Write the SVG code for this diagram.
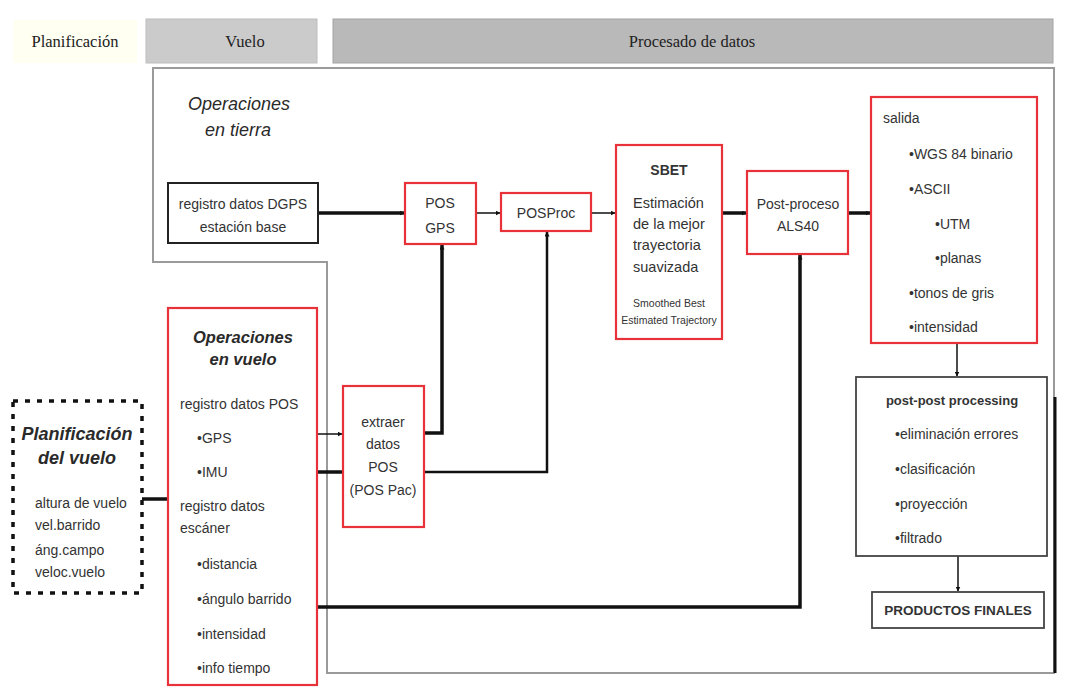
<svg xmlns="http://www.w3.org/2000/svg" width="1087" height="698" viewBox="0 0 1087 698">
  <defs>
    <marker id="arr" viewBox="0 0 10 10" refX="9" refY="5" markerWidth="5" markerHeight="5" markerUnits="userSpaceOnUse" orient="auto">
      <path d="M0,0 L10,5 L0,10 z" fill="#111"/>
    </marker>
    <style>
      .hdr { font-family: "Liberation Serif", serif; font-size: 16.5px; fill: #222; text-anchor: middle; }
      .t { font-family: "Liberation Sans", Arial, sans-serif; font-size: 14px; fill: #333; }
      .c { text-anchor: middle; }
      .ttl { font-family: "Liberation Sans", Arial, sans-serif; font-style: italic; fill: #2a2a2a; }
      .red { fill: #fff; stroke: #e8323a; stroke-width: 2.2; }
      .blk { fill: #fff; stroke: #222; stroke-width: 2; }
      .gry { fill: #fff; stroke: #444; stroke-width: 1.8; }
      .thin { fill: none; stroke: #111; stroke-width: 1.5; }
      .thick { fill: none; stroke: #111; stroke-width: 3.5; }
      .mid { fill: none; stroke: #111; stroke-width: 2.5; }
    </style>
  </defs>
  <rect width="1087" height="698" fill="#fff"/>

  <!-- phase header -->
  <g id="header">
    <rect x="13" y="20" width="124" height="43" fill="#fffff2"/>
    <text class="hdr" x="75" y="47">Planificación</text>
    <rect x="146" y="19" width="171" height="44" fill="#cbcbcb" stroke="#bdbdbd" stroke-width="1"/>
    <text class="hdr" x="245" y="47">Vuelo</text>
    <rect x="333" y="19" width="720" height="44" fill="#b9b9b9" stroke="#a4a4a4" stroke-width="1"/>
    <text class="hdr" x="692" y="47">Procesado de datos</text>
  </g>

  <!-- processing frame outline -->
  <g id="frame">
    <path d="M153,68 H1054 V673 H327 V262 H153 Z" fill="none" stroke="#9a9a9a" stroke-width="2"/>
    <line x1="1055" y1="397" x2="1055" y2="673" stroke="#111" stroke-width="3"/>
  </g>

  <!-- connectors -->
  <g id="connectors">
    <line class="thick" x1="318" y1="213" x2="404" y2="213" marker-end="url(#arr)"/>
    <line class="thin" x1="476" y1="213" x2="500" y2="213" marker-end="url(#arr)"/>
    <line class="thin" x1="591" y1="213" x2="615" y2="213" marker-end="url(#arr)"/>
    <line class="thick" x1="722" y1="213" x2="746" y2="213" marker-end="url(#arr)"/>
    <line class="thick" x1="848" y1="213" x2="870" y2="213" marker-end="url(#arr)"/>
    <line class="thin" x1="957" y1="343" x2="957" y2="376" marker-end="url(#arr)"/>
    <line class="thin" x1="958" y1="556" x2="958" y2="591" marker-end="url(#arr)"/>
    <line class="thick" x1="141" y1="499" x2="167" y2="499"/>
    <line class="thin" x1="318" y1="434" x2="342" y2="434" marker-end="url(#arr)"/>
    <line class="thick" x1="318" y1="472" x2="342" y2="472"/>
    <path class="thick" d="M424,433 H442 V245" marker-end="url(#arr)"/>
    <path class="mid" d="M424,472 H547 V232" marker-end="url(#arr)"/>
    <path class="thick" d="M318,607 H800 V255" marker-end="url(#arr)"/>
  </g>

  <g id="lbl-tierra">
    <text class="ttl" x="188" y="110" style="font-size:18px">Operaciones</text>
    <text class="ttl" x="205" y="136" style="font-size:18px">en tierra</text>
  </g>

  <g id="dgps">
    <rect class="blk" x="168" y="183" width="150" height="60"/>
    <text class="t c" x="243" y="209">registro datos DGPS</text>
    <text class="t c" x="243" y="232">estación base</text>
  </g>

  <g id="posgps">
    <rect class="red" x="405" y="183" width="71" height="61"/>
    <text class="t c" x="440" y="208">POS</text>
    <text class="t c" x="440" y="233">GPS</text>
  </g>

  <g id="posproc">
    <rect class="red" x="501" y="193" width="90" height="38"/>
    <text class="t c" x="546" y="218">POSProc</text>
  </g>

  <g id="sbet">
    <rect class="red" x="616" y="145" width="106" height="194"/>
    <text class="t c" x="669" y="175" style="font-weight:bold">SBET</text>
    <text class="t" x="633" y="208" style="font-size:14.5px">Estimación</text>
    <text class="t" x="633" y="229" style="font-size:14.5px">de la mejor</text>
    <text class="t" x="633" y="250" style="font-size:14.5px">trayectoria</text>
    <text class="t" x="633" y="272" style="font-size:14.5px">suavizada</text>
    <text class="t c" x="669" y="307" style="font-size:10.5px">Smoothed Best</text>
    <text class="t c" x="669" y="324" style="font-size:10.5px">Estimated Trajectory</text>
  </g>

  <g id="postproceso">
    <rect class="red" x="747" y="171" width="101" height="83"/>
    <text class="t c" x="798" y="209">Post-proceso</text>
    <text class="t c" x="798" y="231">ALS40</text>
  </g>

  <g id="salida">
    <rect class="red" x="871" y="97" width="166" height="246"/>
    <text class="t" x="883" y="123">salida</text>
    <text class="t" x="909" y="159">•WGS 84 binario</text>
    <text class="t" x="909" y="194">•ASCII</text>
    <text class="t" x="935" y="229">•UTM</text>
    <text class="t" x="935" y="263">•planas</text>
    <text class="t" x="909" y="298">•tonos de gris</text>
    <text class="t" x="909" y="332">•intensidad</text>
  </g>

  <g id="postpost">
    <rect class="gry" x="856" y="377" width="191" height="179"/>
    <text class="t c" x="952" y="405" style="font-weight:bold;font-size:13px">post-post processing</text>
    <text class="t" x="895" y="439">•eliminación errores</text>
    <text class="t" x="895" y="474">•clasificación</text>
    <text class="t" x="895" y="509">•proyección</text>
    <text class="t" x="895" y="543">•filtrado</text>
  </g>

  <g id="productos">
    <rect class="gry" x="872" y="592" width="172" height="36"/>
    <text class="t c" x="958" y="615" style="font-weight:bold;font-size:13.5px">PRODUCTOS FINALES</text>
  </g>

  <g id="vuelo">
    <rect class="red" x="168" y="308" width="149" height="377"/>
    <text class="ttl c" x="243" y="343" style="font-size:16.5px;font-weight:bold">Operaciones</text>
    <text class="ttl c" x="243" y="365" style="font-size:16.5px;font-weight:bold">en vuelo</text>
    <text class="t" x="180" y="409">registro datos POS</text>
    <text class="t" x="197" y="443">•GPS</text>
    <text class="t" x="197" y="477">•IMU</text>
    <text class="t" x="180" y="511">registro datos</text>
    <text class="t" x="180" y="533">escáner</text>
    <text class="t" x="197" y="569">•distancia</text>
    <text class="t" x="197" y="604">•ángulo barrido</text>
    <text class="t" x="197" y="639">•intensidad</text>
    <text class="t" x="197" y="673">•info tiempo</text>
  </g>

  <g id="extraer">
    <rect class="red" x="343" y="386" width="81" height="141"/>
    <text class="t c" x="383" y="427">extraer</text>
    <text class="t c" x="383" y="449">datos</text>
    <text class="t c" x="383" y="472">POS</text>
    <text class="t c" x="383" y="495">(POS Pac)</text>
  </g>

  <g id="planvuelo">
    <rect x="13" y="401" width="129" height="192" fill="#fff" stroke="#111" stroke-width="3.5" stroke-dasharray="5 7"/>
    <text class="ttl c" x="77" y="440" style="font-size:18px;font-weight:bold">Planificación</text>
    <text class="ttl c" x="77" y="464" style="font-size:18px;font-weight:bold">del vuelo</text>
    <text class="t" x="35" y="508">altura de vuelo</text>
    <text class="t" x="35" y="530">vel.barrido</text>
    <text class="t" x="35" y="555">áng.campo</text>
    <text class="t" x="35" y="577">veloc.vuelo</text>
  </g>
</svg>
